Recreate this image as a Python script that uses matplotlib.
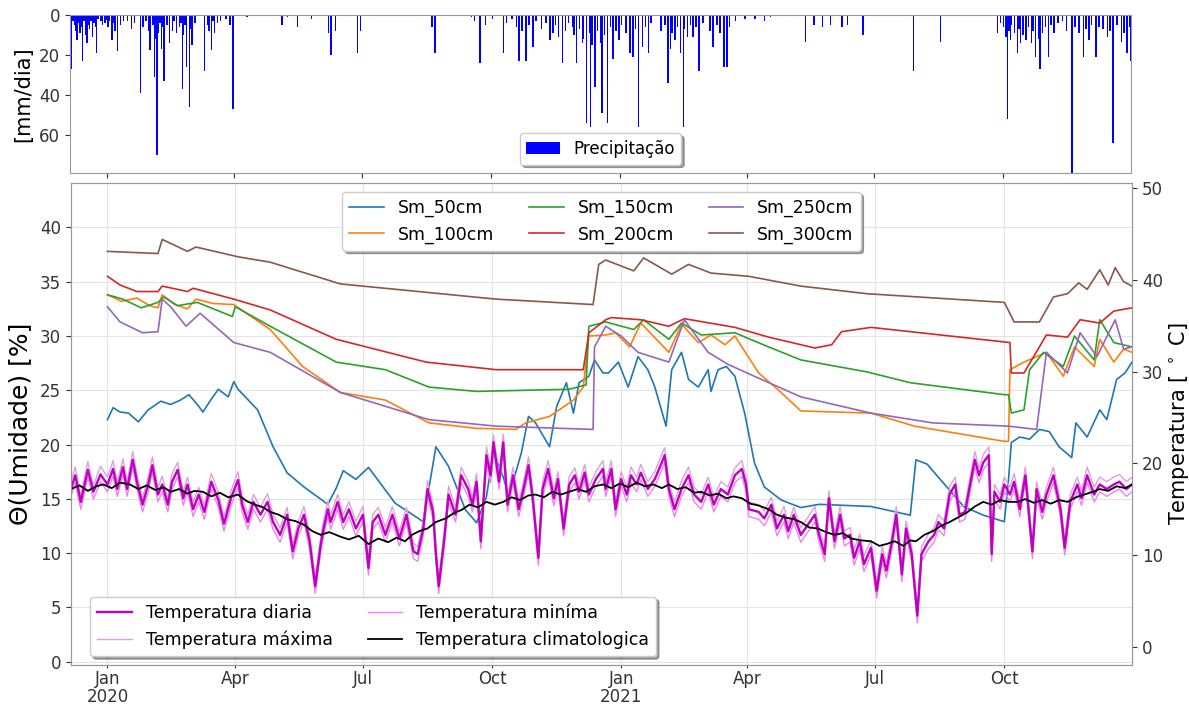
import numpy as np
import matplotlib
matplotlib.use("Agg")
import matplotlib.pyplot as plt
import matplotlib.dates as mdates
from matplotlib.ticker import FuncFormatter

# all x values are days counted from 2020-01-01
BASE = np.datetime64("2020-01-01")

precip = [(-25, 27), (-21, 12.5), (-19, 9), (-17, 23), (-14, 14), (-10, 11), (-7, 19), (0, 2.5), (4, 12.5),
          (8, 18), (15, 3), (24, 39), (31, 17.5), (34, 31), (36, 70), (39, 17), (41, 33), (45, 14), (50, 9),
          (54, 37), (57, 26), (59, 46), (61, 15), (70, 28), (75, 17.5), (77, 9), (81, 3), (90, 47), (100, 1),
          (125, 5), (129, 1), (136, 6), (146, 2), (158, 9), (160, 20), (163, 8), (179, 19), (181, 8),
          (232, 6), (234, 19), (260, 1), (266, 24), (283, 19), (289, 2), (294, 23), (299, 23), (304, 16),
          (316, 12.5), (322, 11), (325, 24), (332, 6), (335, 24), (339, 14), (342, 54), (345, 56), (348, 36),
          (352, 14), (353, 49), (357, 54), (361, 22), (365, 12.5), (373, 19), (375, 21), (379, 56), (382, 16),
          (386, 19), (400, 34), (402, 17), (405, 12.5), (409, 19), (411, 56), (414, 11), (418, 11), (422, 28),
          (432, 16), (437, 9), (440, 26), (442, 26), (455, 2), (462, 2), (469, 3), (473, 1), (498, 13.5),
          (504, 5), (510, 6), (516, 5), (524, 6), (528, 5), (539, 10), (575, 28), (594, 13.5), (605, 0.5),
          (619, 0.5), (635, 9), (641, 11), (642, 52), (644, 12.5), (649, 19), (651, 14), (655, 12.5), (659, 14),
          (662, 21), (665, 27), (671, 21), (675, 9), (681, 3), (688, 80), (696, 21), (700, 12.5), (705, 21),
          (710, 7), (713, 11), (717, 64), (723, 13.5), (727, 19), (730, 23),
          (-24, 3), (-23, 5), (-22, 8), (-20, 4), (-18, 6), (-16, 3), (-15, 10), (-13, 5), (-12, 7), (-11, 3),
          (-9, 4), (-8, 6), (-6, 2), (-4, 3), (-3, 5), (-1, 4), (1, 6), (2, 3), (5, 4), (6, 8), (10, 5), (12, 3),
          (18, 7), (20, 4), (26, 6), (28, 3), (30, 8), (33, 5), (35, 12), (37, 9), (38, 4), (40, 6), (43, 5),
          (47, 8), (48, 3), (52, 6), (53, 4), (55, 10), (56, 5), (60, 7), (63, 4), (72, 5), (73, 8), (76, 3),
          (79, 4), (85, 2), (88, 5),
          (262, 3), (270, 5), (275, 2), (285, 4), (292, 6), (296, 8), (301, 5), (306, 3), (310, 7), (313, 4),
          (318, 9), (320, 5), (327, 8), (329, 4), (333, 10), (337, 7), (340, 12), (344, 9), (346, 15), (350, 8),
          (355, 10), (359, 6), (363, 8), (367, 5), (370, 9), (377, 7), (384, 6), (388, 4), (395, 8), (398, 5),
          (403, 9), (407, 6), (412, 7), (416, 5), (420, 6), (425, 4), (430, 8), (435, 5), (444, 6), (448, 3),
          (637, 4), (639, 6), (643, 8), (645, 5), (647, 9), (650, 7), (653, 10), (657, 6), (660, 8), (664, 12),
          (667, 9), (669, 6), (673, 5), (678, 4), (684, 8), (690, 6), (693, 9), (698, 7), (702, 5), (707, 6),
          (715, 8), (720, 5), (725, 9), (729, 6)]

sm50_days = [0, 4, 9, 15, 22, 29, 38, 45, 52, 58, 64, 68, 73, 79, 86, 90, 93, 107, 118, 128, 140, 157, 163, 168,
             177, 186, 205, 225, 234, 243, 255, 263, 270, 275, 282, 286, 295, 300, 305, 315, 320, 327, 332, 336,
             343, 347, 353, 357, 364, 371, 378, 385, 390, 398, 402, 409, 414, 421, 428, 430, 435, 441, 447, 454,
             461, 468, 480, 494, 507, 544, 572, 576, 584, 598, 610, 624, 639, 642, 644, 650, 657, 664, 671, 678,
             687, 690, 698, 707, 712, 719, 725, 730]
sm50 = [22.3, 23.4, 23.0, 22.9, 22.1, 23.2, 24.0, 23.7, 24.1, 24.6, 23.7, 23.0, 24.0, 25.1, 24.4, 25.8, 25.1,
        23.2, 19.8, 17.4, 16.1, 14.5, 16.0, 17.6, 16.8, 17.9, 14.6, 12.9, 19.8, 18.0, 14.0, 12.8, 15.2, 19.3,
        17.0, 15.2, 19.3, 22.6, 22.0, 19.8, 23.5, 25.7, 22.9, 25.7, 26.3, 27.8, 26.6, 26.6, 27.6, 25.3, 28.1,
        26.9, 25.3, 21.7, 26.9, 28.5, 26.0, 25.3, 26.9, 24.9, 26.9, 27.2, 26.3, 22.9, 18.3, 16.1, 14.9, 14.2,
        14.5, 14.3, 13.5, 18.6, 18.2, 16.1, 14.3, 13.5, 12.9, 16.8, 20.2, 20.7, 20.5, 21.4, 21.2, 19.8, 18.8,
        22.0, 20.7, 23.2, 22.3, 26.0, 26.6, 27.6]

sm100_days = [0, 10, 21, 30, 36, 39, 48, 57, 63, 75, 90, 100, 116, 139, 166, 198, 229, 263, 291, 298, 315, 332,
              339, 343, 355, 362, 372, 380, 400, 409, 421, 430, 440, 447, 464, 480, 494, 544, 575, 639, 642, 643,
              653, 669, 681, 689, 703, 707, 717, 724, 730]
sm100 = [33.8, 33.2, 33.5, 32.8, 32.6, 33.8, 32.9, 32.5, 33.4, 33.0, 32.9, 32.0, 30.6, 27.2, 24.8, 24.1, 22.0,
         21.5, 21.4, 22.0, 22.6, 24.1, 25.3, 30.0, 30.1, 30.3, 29.0, 31.2, 28.5, 31.1, 29.4, 30.1, 29.2, 30.0,
         26.6, 24.8, 23.1, 22.9, 21.7, 20.3, 20.3, 26.9, 27.6, 28.5, 26.3, 29.0, 27.2, 29.7, 27.6, 28.8, 28.5]

sm150_days = [0, 11, 24, 36, 40, 50, 64, 89, 91, 116, 163, 198, 229, 263, 329, 341, 343, 355, 375, 382, 400, 409,
              423, 447, 471, 494, 541, 572, 639, 642, 644, 653, 657, 667, 681, 689, 703, 707, 717, 730]
sm150 = [33.8, 33.4, 32.6, 33.1, 33.6, 32.8, 33.1, 31.8, 32.7, 30.9, 27.6, 26.9, 25.3, 24.9, 25.1, 25.5, 30.9,
         31.3, 30.6, 31.5, 29.7, 31.2, 30.1, 30.3, 29.0, 27.8, 26.7, 25.7, 24.6, 24.6, 22.9, 23.2, 26.9, 28.5,
         27.2, 30.0, 27.8, 31.5, 29.4, 29.0]

sm200_days = [0, 9, 21, 36, 39, 57, 61, 90, 116, 163, 227, 277, 339, 343, 355, 359, 380, 400, 411, 447, 471, 504,
              516, 523, 544, 643, 644, 653, 669, 684, 693, 707, 717, 730]
sm200 = [35.5, 34.7, 34.1, 34.1, 34.6, 34.1, 34.4, 33.4, 32.4, 29.7, 27.6, 26.9, 26.9, 30.3, 31.5, 31.7, 31.5,
         30.9, 31.6, 30.8, 29.9, 28.9, 29.2, 30.4, 30.8, 29.4, 26.6, 26.6, 30.1, 29.9, 31.5, 31.2, 32.3, 32.6]

sm250_days = [0, 9, 25, 36, 39, 45, 56, 61, 66, 90, 116, 166, 229, 277, 346, 347, 355, 366, 378, 400, 411, 428,
              442, 466, 494, 544, 588, 642, 662, 669, 684, 693, 705, 718, 724, 730]
sm250 = [32.7, 31.3, 30.3, 30.4, 33.4, 32.7, 30.9, 31.5, 32.1, 29.4, 28.5, 24.8, 22.3, 21.7, 21.4, 29.0, 30.9,
         30.0, 28.5, 27.6, 31.5, 28.5, 27.4, 26.0, 24.4, 22.9, 22.0, 21.7, 21.4, 28.5, 26.6, 30.3, 28.1, 31.5,
         28.8, 29.0]

sm300_days = [0, 36, 39, 57, 63, 93, 116, 166, 277, 346, 350, 355, 375, 382, 402, 414, 430, 457, 494, 541, 639,
              646, 664, 674, 684, 692, 698, 707, 713, 718, 724, 730]
sm300 = [37.8, 37.6, 38.9, 37.8, 38.2, 37.3, 36.8, 34.8, 33.4, 32.9, 36.6, 37.0, 36.0, 37.2, 35.7, 36.6, 35.8,
         35.5, 34.6, 33.9, 33.1, 31.3, 31.3, 33.6, 33.9, 34.9, 34.3, 36.1, 34.7, 36.3, 35.0, 34.6]

temp_days = [-26, -23, -19, -14, -10, -5, 0, 4, 7, 11, 14, 18, 21, 25, 29, 32, 36, 39, 43, 46, 50, 54, 57, 61, 65,
             69, 74, 79, 83, 88, 93, 96, 100, 104, 109, 114, 118, 123, 128, 132, 136, 140, 144, 148, 152, 154,
             157, 159, 164,
             168, 172, 177, 182, 186, 189, 193, 198, 203, 208, 213, 218, 221, 225, 228, 232, 234, 236, 240, 243,
             248, 252, 257, 260, 263, 266, 270, 273, 275, 279, 282, 285, 289, 293, 296, 300, 303, 307, 310, 314,
             318, 321, 325, 329, 333, 336, 340, 343, 348, 353,
             355, 359, 362, 366, 370, 373, 377, 380, 385, 390, 395, 397, 400, 404, 409, 414, 418, 423, 428, 432,
             437, 442, 447, 452, 455, 457, 464, 468, 473, 477, 482, 485, 489, 494, 499, 504, 507, 511, 514, 518,
             522, 525, 529, 532, 536, 539, 544,
             548, 552, 555, 559, 562, 566, 569, 573, 577, 580, 585, 589, 592, 596, 600, 604, 607, 611, 614, 618,
             621, 624, 628, 630, 632, 636, 639, 643, 646, 650, 654, 659, 662, 666, 669, 674, 679, 682, 686, 691,
             694, 698, 703, 707, 712, 717, 721, 726, 730]
temp_daily = [17.2, 18.7, 15.8, 19.3, 16.9, 18.8, 17.7, 19.4, 17.2, 19.6, 17.2, 20.4, 18.0, 15.5, 17.7, 19.8,
              16.6, 17.7, 15.5, 18.0, 19.3, 16.2, 17.7, 15.0, 16.6, 14.7, 18.0, 16.0, 13.4, 16.2, 18.2, 15.5,
              13.6, 15.8, 14.4, 15.8, 13.6, 12.2, 14.4, 10.4, 12.9, 14.4, 11.5, 6.6, 11.2, 12.9, 15.0, 13.6, 15.8,
              13.6, 15.0, 12.9, 14.4, 8.6, 13.6, 14.4, 12.2, 14.4, 11.8, 14.4, 10.4, 10.1, 12.9, 17.2, 14.7, 10.1,
              6.6, 11.8, 16.6, 14.4, 18.7, 17.2, 15.5, 18.0, 11.5, 20.9, 18.7, 22.3, 18.0, 22.3, 15.5, 18.7, 15.0,
              16.9, 19.8, 16.2, 9.7, 17.2, 19.4, 16.2, 18.3, 12.9, 17.7, 18.7, 16.9, 19.0, 16.6, 18.3, 19.4,
              17.2, 19.4, 15.0, 18.3, 16.6, 18.7, 17.7, 19.0, 17.2, 18.3, 20.1, 20.9, 17.2, 15.0, 17.2, 18.7,
              16.6, 15.8, 17.7, 15.5, 17.2, 16.6, 18.7, 19.4, 17.7, 15.0, 14.7, 14.0, 15.5, 12.9, 14.4, 12.6,
              14.4, 12.2, 13.3, 14.4, 12.2, 10.1, 16.2, 11.5, 14.4, 11.8, 12.2, 9.7, 11.5, 9.0, 10.8,
              6.1, 10.1, 8.3, 11.5, 14.4, 7.9, 12.9, 10.1, 3.4, 10.1, 11.5, 12.2, 13.6, 12.9, 16.6, 17.7, 14.4,
              14.7, 17.2, 20.4, 18.7, 20.1, 20.9, 10.1, 16.9, 15.8, 17.7, 16.6, 18.0, 15.0, 18.7, 10.4, 17.2,
              14.7, 16.6, 18.7, 15.0, 10.8, 15.8, 17.7, 16.2, 18.7, 16.6, 17.7, 17.2, 17.7, 18.0, 17.2, 17.7]
temp_max = [18.0, 19.6, 16.5, 20.2, 17.6, 19.7, 18.5, 20.3, 17.9, 20.5, 18.0, 21.3, 18.8, 16.3, 18.5, 20.7,
            17.4, 18.6, 16.2, 18.9, 20.1, 17.0, 18.5, 15.8, 17.4, 15.5, 18.9, 16.8, 14.2, 17.0, 19.1, 16.3,
            14.4, 16.6, 15.2, 16.7, 14.4, 13.0, 15.2, 11.2, 13.7, 15.3, 12.3, 7.5, 12.0, 13.8, 15.9, 14.4, 16.6,
            14.4, 15.8, 13.7, 15.3, 9.5, 14.4, 15.2, 13.0, 15.3, 12.6, 15.2, 11.3, 10.9, 13.8, 18.1, 15.5, 11.0,
            7.5, 12.6, 17.5, 15.2, 19.6, 18.0, 16.3, 18.9, 12.3, 21.8, 19.5, 23.1, 18.8, 23.2, 16.3, 19.6, 15.8,
            17.7, 20.7, 17.0, 10.6, 18.0, 20.3, 17.0, 19.1, 13.7, 18.6, 19.5, 17.7, 19.9, 17.4, 19.1, 20.3,
            18.0, 20.3, 15.8, 19.1, 17.4, 19.6, 18.5, 19.9, 18.0, 19.1, 21.0, 21.7, 18.0, 15.8, 18.1, 19.6,
            17.4, 16.6, 18.5, 16.3, 18.0, 17.4, 19.5, 20.3, 18.5, 15.8, 15.5, 14.8, 16.3, 13.7, 15.3, 13.4,
            15.2, 13.0, 14.1, 15.3, 13.0, 11.0, 17.0, 12.3, 15.3, 12.6, 13.0, 10.6, 12.3, 9.9, 11.6,
            7.0, 10.9, 9.2, 12.3, 15.3, 8.8, 13.7, 11.0, 4.3, 10.9, 12.3, 13.0, 14.4, 13.7, 17.5, 18.5, 15.2,
            15.5, 18.0, 21.3, 19.5, 21.0, 21.8, 11.0, 17.7, 16.6, 18.5, 17.4, 18.9, 15.8, 19.6, 11.3, 18.0,
            15.5, 17.4, 19.6, 15.8, 11.7, 16.6, 18.5, 17.0, 19.6, 17.4, 18.5, 18.0, 18.5, 18.8, 18.0, 18.5]
temp_min = [16.4, 17.9, 15.0, 18.5, 16.1, 18.0, 16.9, 18.6, 16.4, 18.8, 16.4, 19.6, 17.2, 14.7, 16.9, 19.0,
            15.8, 16.9, 14.7, 17.2, 18.5, 15.4, 16.9, 14.2, 15.8, 13.9, 17.2, 15.2, 12.6, 15.4, 17.4, 14.7,
            12.8, 15.0, 13.6, 15.0, 12.8, 11.4, 13.6, 9.6, 12.1, 13.6, 10.7, 5.8, 10.4, 12.1, 14.2, 12.8, 15.0,
            12.8, 14.2, 12.1, 13.6, 7.8, 12.8, 13.6, 11.4, 13.6, 11.0, 13.6, 9.6, 9.3, 12.1, 16.4, 13.9, 9.3,
            5.8, 11.0, 15.8, 13.6, 17.9, 16.4, 14.7, 17.2, 10.7, 20.1, 17.9, 21.5, 17.2, 21.5, 14.7, 17.9, 14.2,
            16.1, 19.0, 15.4, 8.9, 16.4, 18.6, 15.4, 17.5, 12.1, 16.9, 17.9, 16.1, 18.2, 15.8, 17.5, 18.6,
            16.4, 18.6, 14.2, 17.5, 15.8, 17.9, 16.9, 18.2, 16.4, 17.5, 19.3, 20.1, 16.4, 14.2, 16.4, 17.9,
            15.8, 15.0, 16.9, 14.7, 16.4, 15.8, 17.9, 18.6, 16.9, 14.2, 13.9, 13.2, 14.7, 12.1, 13.6, 11.8,
            13.6, 11.4, 12.5, 13.6, 11.4, 9.3, 15.4, 10.7, 13.6, 11.0, 11.4, 8.9, 10.7, 8.2, 10.0,
            5.3, 9.3, 7.5, 10.7, 13.6, 7.1, 12.1, 9.3, 2.6, 9.3, 10.7, 11.4, 12.8, 12.1, 15.8, 16.9, 13.6,
            13.9, 16.4, 19.6, 17.9, 19.3, 20.1, 9.3, 16.1, 15.0, 16.9, 15.8, 17.2, 14.2, 17.9, 9.6, 16.4,
            13.9, 15.8, 17.9, 14.2, 10.0, 15.0, 16.9, 15.4, 17.9, 15.8, 16.9, 16.4, 16.9, 17.2, 16.4, 16.9]

clim_days = [-26, -20, -14, -8, -3, 3, 9, 16, 22, 28, 34, 40, 45, 51, 57, 62, 68, 74, 80, 86, 93, 99, 105, 111,
             116, 122, 128, 134, 140, 146, 152, 158, 166, 172, 179, 186, 193, 200, 206, 212, 217, 222, 228, 234,
             241, 247, 252, 258, 264, 270, 276, 282, 288, 294, 300, 305, 311, 317, 323, 329, 335, 341, 347, 353,
             359, 365, 371, 377, 383, 389, 395, 400, 406, 412, 418, 423, 429, 435, 441, 446, 452, 458, 464, 471,
             477, 483, 489, 494, 500, 506, 512, 518, 524, 530, 537, 544, 550, 555, 561, 567, 572, 576, 582, 588,
             594, 600, 606, 612, 618, 624, 630, 636, 642, 648, 654, 660, 666, 672, 678, 684, 690, 696, 702, 707,
             713, 719, 725, 730]
clim = [17.2, 17.6, 17.0, 17.5, 17.7, 17.3, 17.9, 17.7, 17.2, 17.6, 17.1, 17.4, 16.9, 17.2, 16.7, 17.0, 16.9,
        16.4, 16.8, 16.3, 16.6, 15.9, 15.5, 15.2, 14.7, 14.4, 13.9, 13.7, 13.3, 12.6, 12.2, 12.5, 12.0, 11.7,
        12.1, 11.2, 11.8, 11.4, 11.9, 11.5, 12.2, 12.6, 12.9, 13.6, 14.0, 14.6, 14.9, 15.5, 15.2, 15.8, 15.5,
        15.8, 16.3, 16.0, 16.5, 16.6, 16.3, 16.9, 16.6, 16.9, 17.2, 16.9, 17.5, 17.7, 17.3, 17.8, 17.4, 17.9,
        17.5, 17.7, 17.3, 17.7, 17.2, 17.4, 16.8, 16.9, 16.5, 16.7, 16.2, 16.4, 16.2, 15.6, 15.4, 15.0, 14.4,
        14.1, 13.9, 13.6, 13.0, 12.9, 12.5, 12.2, 12.4, 11.8, 11.6, 11.5, 11.0, 11.2, 11.5, 11.0, 11.6, 11.5,
        12.2, 12.6, 13.2, 13.6, 14.1, 14.6, 15.3, 15.8, 15.5, 16.0, 15.8, 15.8, 16.1, 15.7, 16.0, 15.6, 16.0,
        15.8, 16.3, 16.6, 16.9, 17.2, 17.0, 17.5, 17.3, 17.7]


def to_dates(days):
    return BASE + np.array(days).astype("timedelta64[D]")


def month_fmt(x, pos=None):
    d = mdates.num2date(x)
    if d.month == 1:
        return d.strftime("%b\n%Y")
    return d.strftime("%b")


fig = plt.figure(figsize=(11.89, 7.04), dpi=100)
ax_p = fig.add_axes([0.0589, 0.7543, 0.8924, 0.2244])
ax = fig.add_axes([0.0597, 0.0554, 0.8924, 0.6847], sharex=ax_p)
ax_t = ax.twinx()

# precipitation (inverted axis)
p_days, p_mm = zip(*precip)
ax_p.bar(to_dates(p_days), p_mm, width=1.0, color="blue", label="Precipitação")
ax_p.set_ylim(79, 0)
ax_p.set_yticks([0, 20, 40, 60])
ax_p.set_ylabel("[mm/dia]", fontsize=15)
ax_p.tick_params(axis="x", labelbottom=False)
ax_p.legend(loc="lower center", fontsize=12, shadow=True)

# soil moisture
ax.plot(to_dates(sm50_days), sm50, color="tab:blue", lw=1.2, label="Sm_50cm")
ax.plot(to_dates(sm100_days), sm100, color="tab:orange", lw=1.2, label="Sm_100cm")
ax.plot(to_dates(sm150_days), sm150, color="tab:green", lw=1.2, label="Sm_150cm")
ax.plot(to_dates(sm200_days), sm200, color="tab:red", lw=1.2, label="Sm_200cm")
ax.plot(to_dates(sm250_days), sm250, color="tab:purple", lw=1.2, label="Sm_250cm")
ax.plot(to_dates(sm300_days), sm300, color="tab:brown", lw=1.2, label="Sm_300cm")
ax.set_ylim(-0.3, 44.1)
ax.set_yticks(range(0, 45, 5))
ax.set_ylabel("Θ(Umidade) [%]", fontsize=18, labelpad=6)
ax.grid(True, color="#e3e3e3", lw=0.8)
ax.legend(loc="upper center", ncol=3, fontsize=12.5, shadow=True)

# temperatures
td = to_dates(temp_days)
ax_t.plot(td, temp_max, color="plum", lw=1, label="Temperatura máxima")
ax_t.plot(td, temp_min, color="violet", lw=1, label="Temperatura miníma")
ax_t.plot(td, temp_daily, color="#c000c0", lw=1.7, label="Temperatura diaria")
ax_t.plot(to_dates(clim_days), clim, color="black", lw=1.3, label="Temperatura climatologica")
ax_t.set_ylim(-2, 50.6)
ax_t.set_yticks(range(0, 51, 10))
ax_t.set_ylabel("Temperatura [ $^\\circ$ C]", fontsize=15, labelpad=3)
h, l = ax_t.get_legend_handles_labels()
order = [2, 0, 1, 3]
ax_t.legend([h[i] for i in order], [l[i] for i in order], loc="lower left", ncol=2, fontsize=12.5,
            shadow=True, bbox_to_anchor=(0.01, 0.0))

ax.set_xlim(np.datetime64("2019-12-06"), np.datetime64("2021-12-31"))
ax.xaxis.set_major_locator(mdates.MonthLocator(bymonth=[1, 4, 7, 10]))
ax.xaxis.set_major_formatter(FuncFormatter(month_fmt))
ax.tick_params(axis="x", pad=1, length=2.5)
for lbl in ax.get_xticklabels():
    lbl.set_linespacing(1.0)

for a in (ax_p, ax, ax_t):
    a.tick_params(labelsize=12, colors="#333333")
    for s in a.spines.values():
        s.set_color("#999999")

fig.savefig("out.png", dpi=100)
